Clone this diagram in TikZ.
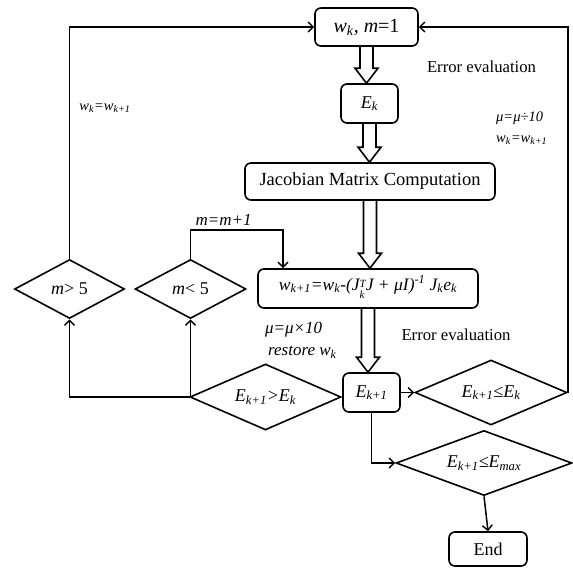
\documentclass[tikz,border=0pt]{standalone}
\usepackage{fontspec}
\setmainfont{Liberation Serif}
\usetikzlibrary{shapes.geometric,arrows.meta,calc}
\newcommand{\sbs}[1]{\textsubscript{#1}}
\newcommand{\sps}[1]{\textsuperscript{#1}}
\newcommand{\stk}[2]{\raisebox{-0.45ex}{\fontsize{11}{9.5}\selectfont\begin{tabular}[c]{@{}l@{}}#1\\#2\end{tabular}}}
\newcommand{\fatarrow}[2]{\draw[fatline] let \p1=(#1.south), \p2=(#2.north) in
  (\x1-6.5pt,\y1) -- (\x1-6.5pt,\y2+15pt) -- (\x1-11.5pt,\y2+15pt) -- (\x1,\y2)
  -- (\x1+11.5pt,\y2+15pt) -- (\x1+6.5pt,\y2+15pt) -- (\x1+6.5pt,\y1);}
\begin{document}
\begin{tikzpicture}[x=1pt,y=-1pt,
  box/.style={draw, rounded corners=6pt, line width=1.6pt, inner sep=0pt, align=center,
    font=\fontsize{18}{20}\selectfont},
  dia/.style={draw, diamond, aspect=2, inner sep=0pt, line width=1.6pt,
    font=\fontsize{18}{20}\selectfont},
  conn/.style={line width=1.5pt, -{Straight Barb[length=5pt,width=10pt,line width=1.4pt]}},
  fatline/.style={line width=1.6pt, line join=miter},
  lab/.style={inner sep=0pt, font=\itshape\fontsize{17}{19}\selectfont},
  slab/.style={inner sep=0pt, font=\itshape\fontsize{14.5}{16}\selectfont},
  elab/.style={inner sep=0pt, font=\fontsize{16.7}{19}\selectfont}]
\useasboundingbox (0,0) rectangle (573,568);
% boxes
\node[box, minimum width=103pt, minimum height=38pt, font=\fontsize{20}{22}\selectfont]
  (top) at (366.5,27) {\textit{w}\sbs{\textit{k}}, \textit{m}=1};
\node[box, minimum width=57pt, minimum height=39pt] (Ek) at (369.5,103.5) {\textit{E}\sbs{\textit{k}}};
\node[box, minimum width=250pt, minimum height=37pt, font=\fontsize{18.5}{20}\selectfont]
  (jac) at (370,181.5) {Jacobian Matrix Computation};
\node[box, minimum width=220pt, minimum height=39pt, font=\itshape\fontsize{17.5}{20}\selectfont]
  (wup) at (368,288.5) {w\sbs{k+1}=w\sbs{k}-(J\stk{T}{k}J + μI)\sps{-1} J\sbs{k}e\sbs{k}};
\node[box, minimum width=57pt, minimum height=39pt, font=\itshape\fontsize{18}{20}\selectfont]
  (Ek1) at (371.5,392.5) {E\sbs{k+1}};
\node[box, minimum width=78pt, minimum height=34pt] (End) at (488,549) {End};
% diamonds
\node[dia, minimum width=110pt, minimum height=59pt] (mgt) at (69.5,289) {\textit{m}> 5};
\node[dia, minimum width=111pt, minimum height=59pt] (mlt) at (190.5,289) {\textit{m}< 5};
\node[dia, minimum width=151pt, minimum height=66pt, font=\itshape\fontsize{18}{20}\selectfont]
  (egt) at (265.5,397) {E\sbs{k+1}>E\sbs{k}};
\node[dia, minimum width=152pt, minimum height=65pt, font=\itshape\fontsize{18}{20}\selectfont]
  (ele) at (491,392.5) {E\sbs{k+1}≤E\sbs{k}};
\node[dia, minimum width=176pt, minimum height=65pt, font=\itshape\fontsize{18}{20}\selectfont]
  (emax) at (484,463) {E\sbs{k+1}≤E\sbs{max}};
% fat arrows
\fatarrow{top}{Ek}
\fatarrow{Ek}{jac}
\fatarrow{jac}{wup}
\fatarrow{wup}{Ek1}
% connectors
\coordinate (mm) at (283,230);
\draw[conn] (egt.west) -| (mgt.south);
\draw[conn] (egt.west) -| (mlt.south);
\draw[conn] (mlt.north) |- (mm) -- (mm |- wup.north);
\draw[conn] (mgt.north) |- (top.west);
\draw[conn] (Ek1.east) -- (ele.west);
\draw[conn] (ele.east) |- (top.east);
\draw[conn] (Ek1.south) |- (emax.west);
\draw[conn] (emax.south) -- (End.north);
% labels
\node[slab] (l1) at (105,108) {w\sbs{k}=w\sbs{k+1}};
\node[elab] (l2) at (481.5,67) {Error evaluation};
\node[slab, anchor=west] (l3) at (496,118) {μ=μ÷10};
\node[slab, anchor=west] (l4) at (496,140) {w\sbs{k}=w\sbs{k+1}};
\node[lab] (l5) at (223.5,220) {m=m+1};
\node[lab, anchor=west] (l6) at (265,330) {μ=μ×10};
\node[lab, anchor=west] (l7) at (268,352) {restore w\sbs{k}};
\node[elab] (l8) at (456,335) {Error evaluation};
\end{tikzpicture}
\end{document}
